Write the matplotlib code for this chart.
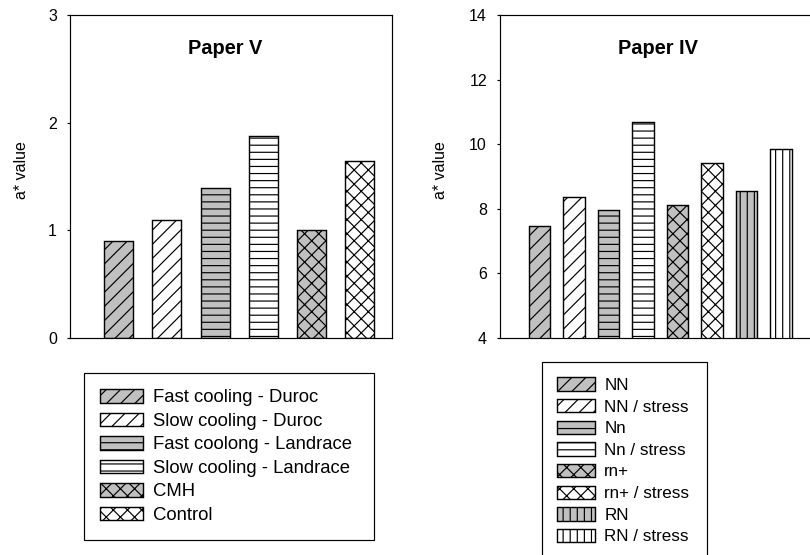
import matplotlib.pyplot as plt

DPI = 85
W, H = 810, 555

# data
paper_v_groups = ['Fast cooling - Duroc', 'Slow cooling - Duroc', 'Fast coolong - Landrace',
                  'Slow cooling - Landrace', 'CMH', 'Control']
paper_v_values = [0.90, 1.10, 1.39, 1.88, 1.00, 1.64]
paper_v_ticks = [0, 1, 2, 3]

paper_iv_groups = ['NN', 'NN / stress', 'Nn', 'Nn / stress', 'rn+', 'rn+ / stress', 'RN', 'RN / stress']
paper_iv_values = [7.48, 8.36, 7.95, 10.69, 8.13, 9.43, 8.56, 9.84]
paper_iv_ticks = [4, 6, 8, 10, 12, 14]

GRAY = '#c0c0c0'
v_fills = [GRAY, 'white', GRAY, 'white', GRAY, 'white']
v_hatches = ['//', '//', '--', '--', 'xx', 'xx']
iv_fills = [GRAY, 'white', GRAY, 'white', GRAY, 'white', GRAY, 'white']
iv_hatches = ['//', '//', '--', '--', 'xx', 'xx', '||', '||']


def pt(px):
    return px * 72 / DPI


plt.rcParams['font.family'] = ['Liberation Sans', 'DejaVu Sans']
plt.rcParams['hatch.linewidth'] = 1.0

fig = plt.figure(figsize=(W / DPI, H / DPI), dpi=DPI)


def make_axes(x0, x1, y0, y1):
    return fig.add_axes([x0 / W, 1 - y1 / H, (x1 - x0) / W, (y1 - y0) / H])


def draw_panel(ax, values, labels, fills, hatches, width, ticks, title, title_x):
    for i, (v, lab, fc, ht) in enumerate(zip(values, labels, fills, hatches)):
        ax.bar(i, v, width=width, color=fc, hatch=ht, edgecolor='black',
               linewidth=1.2, label=lab)
    ax.set_ylim(ticks[0], ticks[-1])
    ax.set_yticks(ticks)
    ax.set_xticks([])
    ax.tick_params(axis='y', direction='out', length=pt(3.5), width=1.0,
                   pad=pt(9), labelsize=pt(16))
    for s in ax.spines.values():
        s.set_linewidth(1.0)
    ax.text(title_x, 0.878, title, transform=ax.transAxes, ha='center',
            va='baseline', fontsize=pt(20), fontweight='bold')


# Paper V
ax1 = make_axes(69.5, 392, 15, 338)
draw_panel(ax1, paper_v_values, paper_v_groups, v_fills, v_hatches, 0.6,
           paper_v_ticks, 'Paper V', 0.482)
ax1.set_xlim(-1.02, 5.67)
fig.text(21.5 / W, 1 - 170 / H, 'a* value', rotation=90, ha='center', va='center',
         fontsize=pt(16))

# Paper IV
ax2 = make_axes(499.5, 815, 15, 338)
draw_panel(ax2, paper_iv_values, paper_iv_groups, iv_fills, iv_hatches, 0.62,
           paper_iv_ticks, 'Paper IV', 0.501)
ax2.set_xlim(-1.166, 7.99)
fig.text(441 / W, 1 - 170 / H, 'a* value', rotation=90, ha='center', va='center',
         fontsize=pt(16))

# legends
fs1 = 18.5
h1, l1 = ax1.get_legend_handles_labels()
leg1 = fig.legend(h1, l1, loc='upper left',
                  bbox_to_anchor=(84 / W, 1 - 539 / H, 290 / W, (539 - 372.7) / H),
                  mode='expand', borderaxespad=0, fontsize=pt(fs1),
                  handlelength=43 / fs1, handleheight=14 / fs1,
                  handletextpad=10 / fs1, borderpad=0.88, labelspacing=0.34,
                  fancybox=False, edgecolor='black', framealpha=1)
leg1.get_frame().set_linewidth(1.0)

fs2 = 17
h2, l2 = ax2.get_legend_handles_labels()
leg2 = fig.legend(h2, l2, loc='upper left',
                  bbox_to_anchor=(541.7 / W, 1 - 600 / H, 165 / W, (600 - 361.7) / H),
                  mode='expand', borderaxespad=0, fontsize=pt(fs2),
                  handlelength=38 / fs2, handleheight=14 / fs2,
                  handletextpad=9 / fs2, borderpad=0.92, labelspacing=0.36,
                  fancybox=False, edgecolor='black', framealpha=1)
leg2.get_frame().set_linewidth(1.0)

fig.savefig('out.png', dpi=DPI)
